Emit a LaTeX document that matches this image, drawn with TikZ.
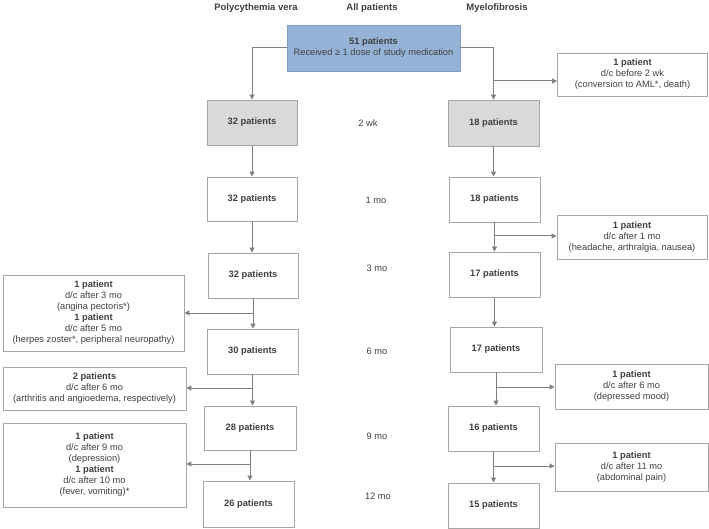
\documentclass[tikz,border=0pt]{standalone}
\usepackage{fontspec}
\setmainfont{Liberation Sans}
\usetikzlibrary{arrows.meta}
\definecolor{txt}{HTML}{404040}
\definecolor{lin}{HTML}{7F7F7F}
\definecolor{bord}{HTML}{A6A6A6}
\definecolor{topfill}{HTML}{95B3D7}
\definecolor{topbord}{HTML}{7F9CC4}
\definecolor{grayfill}{HTML}{D9D9D9}
\tikzset{
  base/.style={font=\fontsize{9.3}{11}\selectfont, text=txt, align=center, inner sep=0pt},
  cnt/.style={base, draw=bord, line width=0.9pt, fill=white, font=\fontsize{9.3}{11}\selectfont\bfseries},
  cntgray/.style={cnt, fill=grayfill},
  dcbox/.style={base, draw=bord, line width=0.9pt, fill=white},
  topbox/.style={base, draw=topbord, line width=0.9pt, fill=topfill},
  hdr/.style={base, font=\fontsize{9.5}{11}\selectfont\bfseries},
  tlab/.style={base},
  conn/.style={draw=lin, line width=1pt},
  arr/.style={conn, -{Triangle[length=5pt,width=5pt]}}
}
\begin{document}
\begin{tikzpicture}[x=1pt,y=-1pt]
\useasboundingbox (0,0) rectangle (709,529);
% headers
\node[hdr] (hpv) at (256,8) {Polycythemia vera};
\node[hdr] (hall) at (372,8) {All patients};
\node[hdr] (hmf) at (497,8) {Myelofibrosis};
% top box
\node[topbox, minimum width=173pt, minimum height=46pt] (top) at (373.5,48) {\textbf{51 patients}\\Received ≥ 1 dose of study medication};
% PV column
\node[cntgray, minimum width=90pt, minimum height=45pt] (pv0) at (252,122.5) {32 patients};
\node[cnt, minimum width=90pt, minimum height=44pt] (pv1) at (252,199) {32 patients};
\node[cnt, minimum width=90pt, minimum height=45pt] (pv2) at (253,275.5) {32 patients};
\node[cnt, minimum width=91pt, minimum height=45pt] (pv3) at (252.5,351.5) {30 patients};
\node[cnt, minimum width=92pt, minimum height=44pt] (pv4) at (250,428) {28 patients};
\node[cnt, minimum width=91pt, minimum height=46pt] (pv5) at (248.5,504) {26 patients};
% MF column
\node[cntgray, minimum width=91pt, minimum height=46pt] (mf0) at (493.5,123) {18 patients};
\node[cnt, minimum width=91pt, minimum height=45pt] (mf1) at (494.5,199.5) {18 patients};
\node[cnt, minimum width=91pt, minimum height=45pt] (mf2) at (494.5,274.5) {17 patients};
\node[cnt, minimum width=92pt, minimum height=45pt] (mf3) at (496,349.5) {17 patients};
\node[cnt, minimum width=91pt, minimum height=45pt] (mf4) at (493.5,428.5) {16 patients};
\node[cnt, minimum width=91pt, minimum height=45pt] (mf5) at (493.5,505.5) {15 patients};
% time labels
\node[tlab] (t0) at (368,123) {2 wk};
\node[tlab] (t1) at (376,200) {1 mo};
\node[tlab] (t2) at (377,268) {3 mo};
\node[tlab] (t3) at (377,351) {6 mo};
\node[tlab] (t4) at (377,436) {9 mo};
\node[tlab] (t5) at (378,496) {12 mo};
% left discontinuation boxes
\node[dcbox, minimum width=181pt, minimum height=76pt] (dA) at (93.5,313) {\textbf{1 patient}\\d/c after 3 mo\\(angina pectoris*)\\\textbf{1 patient}\\d/c after 5 mo\\(herpes zoster*, peripheral neuropathy)};
\node[dcbox, minimum width=183pt, minimum height=43pt] (dB) at (94.5,388.5) {\textbf{2 patients}\\d/c after 6 mo\\(arthritis and angioedema, respectively)};
\node[dcbox, minimum width=183pt, minimum height=84pt] (dC) at (94.5,465) {\textbf{1 patient}\\d/c after 9 mo\\(depression)\\\textbf{1 patient}\\d/c after 10 mo\\(fever, vomiting)*};
% right discontinuation boxes
\node[dcbox, minimum width=150pt, minimum height=43pt] (dD) at (632.5,74.5) {\textbf{1 patient}\\d/c before 2 wk\\(conversion to AML*, death)};
\node[dcbox, minimum width=150pt, minimum height=44pt] (dE) at (632,237) {\textbf{1 patient}\\d/c after 1 mo\\(headache, arthralgia, nausea)};
\node[dcbox, minimum width=153pt, minimum height=45pt] (dF) at (631.5,386.5) {\textbf{1 patient}\\d/c after 6 mo\\(depressed mood)};
\node[dcbox, minimum width=153pt, minimum height=48pt] (dG) at (631.5,467) {\textbf{1 patient}\\d/c after 11 mo\\(abdominal pain)};
% branch coordinates
\coordinate (bD) at (494,81);
\coordinate (bE) at (494.5,236);
\coordinate (bA) at (253,313);
\coordinate (bB) at (252.5,388);
\coordinate (bC) at (250,464);
\coordinate (bF) at (496,387);
\coordinate (bG) at (493.5,466);
% connectors from top box
\draw[arr] (top.west) -| (pv0.north);
\draw[arr] (top.east) -| (mf0.north);
\draw[arr] (bD) -- (dD.west |- bD);
% PV vertical
\draw[arr] (pv0.south) -- (pv0.south |- pv1.north);
\draw[arr] (pv1.south) -- (pv1.south |- pv2.north);
\draw[arr] (pv2.south) -- (pv2.south |- pv3.north);
\draw[arr] (pv3.south) -- (pv3.south |- pv4.north);
\draw[arr] (pv4.south) -- (pv4.south |- pv5.north);
\draw[arr] (bA) -- (dA.east |- bA);
\draw[arr] (bB) -- (dB.east |- bB);
\draw[arr] (bC) -- (dC.east |- bC);
% MF vertical
\draw[arr] (mf0.south) -- (mf0.south |- mf1.north);
\draw[arr] (mf1.south) -- (mf1.south |- mf2.north);
\draw[arr] (mf2.south) -- (mf2.south |- mf3.north);
\draw[arr] (mf3.south) -- (mf3.south |- mf4.north);
\draw[arr] (mf4.south) -- (mf4.south |- mf5.north);
\draw[arr] (bE) -- (dE.west |- bE);
\draw[arr] (bF) -- (dF.west |- bF);
\draw[arr] (bG) -- (dG.west |- bG);
\end{tikzpicture}
\end{document}
